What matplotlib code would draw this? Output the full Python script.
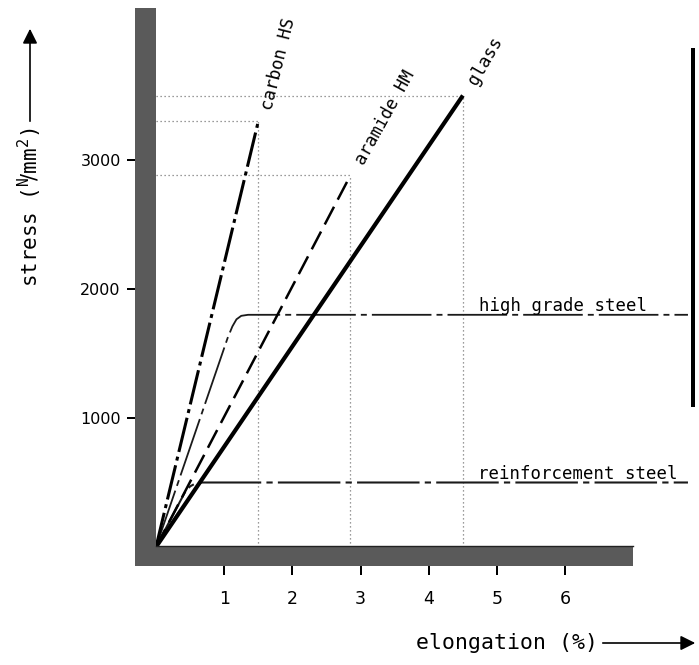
import matplotlib
matplotlib.use("Agg")
import matplotlib.pyplot as plt
from matplotlib.patches import Rectangle, FancyArrowPatch
from matplotlib.lines import Line2D

# fibres: end point of the linear stress-strain line
fibres = ["carbon HS", "aramide HM", "glass"]
fibre_strain = [1.5, 2.85, 4.5]        # %
fibre_stress = [3300, 2880, 3500]      # N/mm2

# steels
hg_strain = [0, 1.05, 1.12, 1.18, 1.25, 1.35, 7.8]
hg_stress = [0, 1620, 1710, 1765, 1792, 1800, 1800]
rs_strain = [0, 0.42, 0.5, 0.58, 0.68, 7.8]
rs_stress = [0, 420, 470, 493, 500, 500]

xticks = [1, 2, 3, 4, 5, 6]
yticks = [1000, 2000, 3000]

# page geometry in pixels (y measured from the top)
W, H = 699, 665
X0, Y0 = 156, 547          # origin of the diagram
PX_PCT = 68.2              # pixels per 1 % elongation
PX_MPA = 0.129             # pixels per 1 N/mm2
PT = 0.72                  # points per pixel at dpi 100

mono = "DejaVu Sans Mono"

fig = plt.figure(figsize=(W / 100, H / 100), dpi=100)
ax = fig.add_axes([X0 / W, (H - Y0) / H, (W - X0) / W, Y0 / H])
ax.set_xlim(0, (W - X0) / PX_PCT)
ax.set_ylim(0, Y0 / PX_MPA)
ax.patch.set_visible(False)


def px_box(x, y, w, h, **kw):
    return Rectangle((x / W, 1 - (y + h) / H), w / W, h / H,
                     transform=fig.transFigure, **kw)


# the thick grey axis bars
grey = "#5a5a5a"
fig.patches.append(px_box(135, 8, 21, 558, facecolor=grey, edgecolor="none", zorder=1))
fig.patches.append(px_box(135, 546, 498, 20, facecolor=grey, edgecolor="none", zorder=1))
fig.add_artist(Line2D([156 / W, 633 / W], [1 - 546 / H] * 2, transform=fig.transFigure,
                      color="#222222", lw=1.0))

# spines hidden, ticks pushed outside the bars
for s in ax.spines.values():
    s.set_visible(False)
ax.spines["left"].set_position(("outward", 21 * PT))
ax.spines["bottom"].set_position(("outward", 19 * PT))
ax.set_xticks(xticks)
ax.set_yticks(yticks)
ax.tick_params(axis="y", length=8 * PT, width=2 * PT, pad=4.5, labelsize=11.5)
ax.tick_params(axis="x", length=9 * PT, width=2 * PT, pad=11, labelsize=12.5)

# dotted guide lines to the fibre end points
guide = dict(color="#7a7a7a", lw=0.9, linestyle=(0, (1, 2.2)), zorder=1)
ax.vlines(fibre_strain, 0, fibre_stress, **guide)
ax.hlines(fibre_stress, 0, fibre_strain, **guide)

# fibre lines
styles = [
    dict(lw=2.2, dashes=(11.5, 1.6, 1.3, 1.6)),
    dict(lw=1.8, dashes=(8, 3.2)),
    dict(lw=3.0, linestyle="-"),
]
angles = [76, 61, 60]
for name, e, s, st, ang in zip(fibres, fibre_strain, fibre_stress, styles, angles):
    ax.plot([0, e], [0, s], color="k", solid_capstyle="butt", clip_on=False, zorder=3, **st)
    ax.annotate(name, xy=(e, s), xytext=(6.5, 8.5), textcoords="offset points",
                rotation=ang, rotation_mode="anchor", ha="left", va="center",
                family=mono, fontsize=12.5)

# steels
ax.plot(hg_strain, hg_stress, color="#1a1a1a", lw=1.3, dashes=(33, 2.8, 3.3, 2.8),
        clip_on=False, zorder=2)
ax.plot(rs_strain, rs_stress, color="#1a1a1a", lw=1.5, dashes=(30, 2.5, 3, 2.5),
        clip_on=False, zorder=2)
ax.annotate("high grade steel", xy=(4.74, hg_stress[-1]), xytext=(0, 2.5),
            textcoords="offset points", ha="left", va="baseline",
            family=mono, fontsize=12.5)
ax.annotate("reinforcement steel", xy=(4.72, rs_stress[-1]), xytext=(0, 2.5),
            textcoords="offset points", ha="left", va="baseline",
            family=mono, fontsize=12.5)

# axis titles with arrows
fig.text(30 / W, 1 - 128 / H, r"stress ($^{\mathregular{N}}\!/\mathregular{mm}^{2}$)",
         rotation=90, ha="center", va="top", family=mono, fontsize=15)
fig.add_artist(FancyArrowPatch((30 / W, 1 - 124 / H), (30 / W, 1 - 26 / H),
                               transform=fig.transFigure, arrowstyle="-|>",
                               mutation_scale=22, lw=1.2, color="k"))
fig.text(598 / W, 1 - 643 / H, "elongation (%)", ha="right", va="center",
         family=mono, fontsize=15.5)
fig.add_artist(FancyArrowPatch((600 / W, 1 - 643 / H), (698 / W, 1 - 643 / H),
                               transform=fig.transFigure, arrowstyle="-|>",
                               mutation_scale=22, lw=1.2, color="k"))

# black rule at the right edge
fig.add_artist(Line2D([693 / W] * 2, [1 - 48 / H, 1 - 407 / H], transform=fig.transFigure,
                      color="k", lw=4 * PT, solid_capstyle="butt"))

fig.savefig("out.png", dpi=100)
